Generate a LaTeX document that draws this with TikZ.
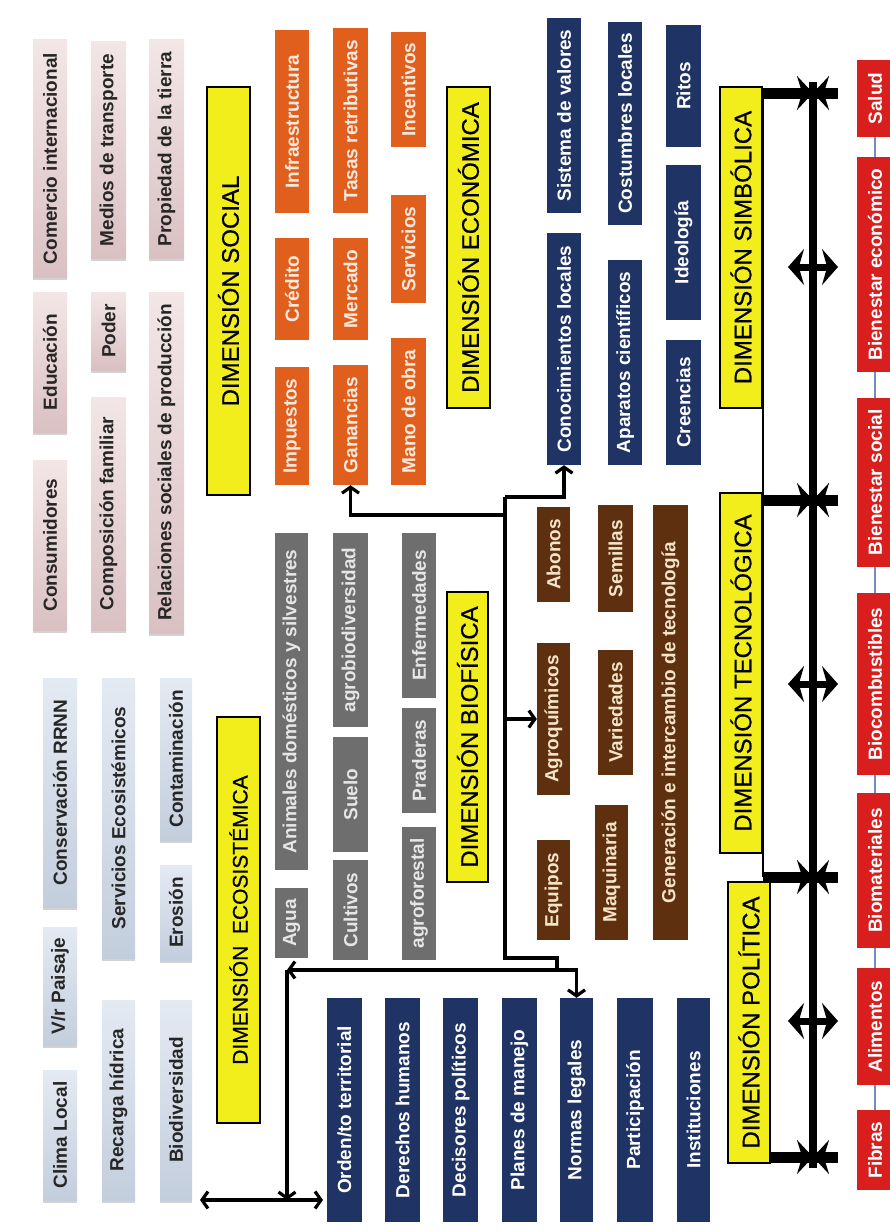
\documentclass[tikz,border=0pt]{standalone}
\usepackage{fontspec}
\setmainfont{Liberation Sans}
\newfontfamily\titlefont{Liberation Sans}[FakeBold=0.6]
\usetikzlibrary{arrows.meta,shadows}

\definecolor{pinkL}{HTML}{F3E6E7}
\definecolor{pinkD}{HTML}{D9C0C3}
\definecolor{iceL}{HTML}{E4EAF3}
\definecolor{iceD}{HTML}{C3CEDD}
\definecolor{titleyel}{HTML}{F2EE1C}
\definecolor{orangebox}{HTML}{E05F1D}
\definecolor{orangetxt}{HTML}{FBE9DD}
\definecolor{graybox}{HTML}{6E6E6E}
\definecolor{graytxt}{HTML}{E6E6E6}
\definecolor{navybox}{HTML}{1F3464}
\definecolor{brownbox}{HTML}{5E300F}
\definecolor{browntxt}{HTML}{F4E4C8}
\definecolor{redbox}{HTML}{D91E1E}
\definecolor{darktxt}{HTML}{262626}
\definecolor{linkblue}{HTML}{6F8FC2}

% box: style, name, left, right, top, bottom (pixel units), text
\newcommand\mkbox[7]{%
  \node[#1, minimum width={(#6-#5)*1pt}, minimum height={(#4-#3)*1pt}]
    (#2) at ({(#3+#4)/2},{(#5+#6)/2}) {#7};}

\begin{document}
\begin{tikzpicture}[x=1pt,y=-1pt,
  >={Straight Barb[length=6pt,width=17pt]},
  base/.style={rotate=90, inner sep=0pt, font=\bfseries\fontsize{19}{19}\selectfont},
  socbox/.style={base, top color=pinkL, bottom color=pinkD, text=darktxt,
    drop shadow={shadow xshift=0pt, shadow yshift=-2.5pt, opacity=.35}},
  ecobox/.style={base, top color=iceL, bottom color=iceD, text=darktxt,
    drop shadow={shadow xshift=0pt, shadow yshift=-2.5pt, opacity=.35}},
  orbox/.style={base, fill=orangebox, text=orangetxt},
  grbox/.style={base, fill=graybox, text=graytxt},
  nvbox/.style={base, fill=navybox, text=white},
  brbox/.style={base, fill=brownbox, text=browntxt},
  rdbox/.style={base, fill=redbox, text=white},
  titlebox/.style={rotate=90, inner sep=0pt, fill=titleyel, draw=black,
    line width=2.5pt, text=black, font=\titlefont\fontsize{24}{24}\selectfont},
  conn/.style={line width=3.2pt, black},
  heavy/.style={line width=11pt, black},
  twin/.style={line width=7pt, black,
    {Stealth[length=16pt,width=36pt]}-{Stealth[length=16pt,width=36pt]}},
  meet/.style={line width=11pt, black, -{Stealth[length=16pt,width=34pt]}},
]
\useasboundingbox[fill=white] (0,0) rectangle (889,1231);

% ---- social dimension
\mkbox{socbox}{comercio}{33}{67}{40}{277}{Comercio internacional}
\mkbox{socbox}{educacion}{33}{67}{292}{432}{Educación}
\mkbox{socbox}{consumidores}{33}{67}{460}{630}{Consumidores}
\mkbox{socbox}{medios}{91}{126}{42}{258}{Medios de transporte}
\mkbox{socbox}{poder}{91}{126}{292}{370}{Poder}
\mkbox{socbox}{composicion}{91}{126}{397}{630}{Composición familiar}
\mkbox{socbox}{propiedad}{149}{184}{40}{258}{Propiedad de la tierra}
\mkbox{socbox}{relaciones}{149}{184}{292}{633}{Relaciones sociales de producción}

% ---- ecosystem dimension
\mkbox{ecobox}{conservacion}{43}{77}{678}{907}{Conservación RRNN}
\mkbox{ecobox}{paisaje}{43}{77}{927}{1045}{V/r Paisaje}
\mkbox{ecobox}{clima}{43}{77}{1070}{1200}{Clima Local}
\mkbox{ecobox}{servicioseco}{102}{135}{678}{958}{Servicios Ecosistémicos}
\mkbox{ecobox}{recarga}{102}{135}{1000}{1200}{Recarga hídrica}
\mkbox{ecobox}{contaminacion}{160}{192}{678}{840}{Contaminación}
\mkbox{ecobox}{erosion}{160}{192}{865}{960}{Erosión}
\mkbox{ecobox}{biodiversidad}{160}{192}{1000}{1200}{Biodiversidad}

% ---- dimension titles
\mkbox{titlebox}{tsocial}{207}{250}{87}{495}{DIMENSIÓN SOCIAL}
\mkbox{titlebox,font=\titlefont\fontsize{21}{21}\selectfont}{tecosis}{217}{260}{717}{1123}{DIMENSIÓN\ \ ECOSISTÉMICA}
\mkbox{titlebox}{teconom}{447}{490}{87}{408}{DIMENSIÓN ECONÓMICA}
\mkbox{titlebox}{tbiofis}{447}{488}{592}{882}{DIMENSIÓN BIOFÍSICA}
\mkbox{titlebox}{tsimbol}{720}{762}{87}{408}{DIMENSIÓN SIMBÓLICA}
\mkbox{titlebox}{ttecno}{720}{762}{493}{853}{DIMENSIÓN TECNOLÓGICA}
\mkbox{titlebox}{tpolit}{728}{770}{882}{1163}{DIMENSIÓN POLÍTICA}

% ---- economic dimension
\mkbox{orbox}{infra}{275}{309}{30}{213}{Infraestructura}
\mkbox{orbox}{credito}{275}{309}{238}{340}{Crédito}
\mkbox{orbox}{impuestos}{275}{309}{367}{485}{Impuestos}
\mkbox{orbox}{tasas}{333}{368}{28}{213}{Tasas retributivas}
\mkbox{orbox}{mercado}{333}{368}{238}{340}{Mercado}
\mkbox{orbox}{ganancias}{333}{368}{365}{485}{Ganancias}
\mkbox{orbox}{incentivos}{391}{426}{32}{147}{Incentivos}
\mkbox{orbox}{servicios}{391}{426}{195}{303}{Servicios}
\mkbox{orbox}{mano}{391}{426}{338}{485}{Mano de obra}

% ---- biophysical dimension
\mkbox{grbox}{animales}{275}{308}{533}{870}{Animales domésticos y silvestres}
\mkbox{grbox}{agua}{275}{308}{888}{958}{Agua}
\mkbox{grbox}{agrobio}{333}{368}{533}{727}{agrobiodiversidad}
\mkbox{grbox}{suelo}{333}{368}{737}{852}{Suelo}
\mkbox{grbox}{cultivos}{333}{368}{860}{960}{Cultivos}
\mkbox{grbox}{enfermedades}{402}{436}{533}{698}{Enfermedades}
\mkbox{grbox}{praderas}{402}{436}{708}{813}{Praderas}
\mkbox{grbox}{agroforestal}{402}{436}{827}{960}{agroforestal}

% ---- symbolic dimension
\mkbox{nvbox}{sistema}{547}{581}{18}{213}{Sistema de valores}
\mkbox{nvbox}{conocimientos}{547}{581}{233}{465}{Conocimientos locales}
\mkbox{nvbox}{costumbres}{608}{642}{22}{225}{Costumbres locales}
\mkbox{nvbox}{aparatos}{608}{642}{260}{465}{Aparatos científicos}
\mkbox{nvbox}{ritos}{666}{701}{25}{147}{Ritos}
\mkbox{nvbox}{ideologia}{666}{701}{165}{320}{Ideología}
\mkbox{nvbox}{creencias}{666}{701}{340}{465}{Creencias}

% ---- technological dimension
\mkbox{brbox}{abonos}{537}{570}{507}{602}{Abonos}
\mkbox{brbox}{agroquimicos}{537}{570}{643}{795}{Agroquímicos}
\mkbox{brbox}{equipos}{537}{570}{840}{940}{Equipos}
\mkbox{brbox}{semillas}{598}{633}{505}{612}{Semillas}
\mkbox{brbox}{variedades}{598}{633}{650}{775}{Variedades}
\mkbox{brbox}{maquinaria}{595}{628}{805}{940}{Maquinaria}
\mkbox{brbox}{generacion}{653}{688}{505}{940}{Generación e intercambio de tecnología}

% ---- political dimension
\mkbox{nvbox}{orden}{327}{362}{998}{1222}{Orden/to territorial}
\mkbox{nvbox}{derechos}{385}{420}{998}{1222}{Derechos humanos}
\mkbox{nvbox}{decisores}{443}{478}{998}{1222}{Decisores políticos}
\mkbox{nvbox}{planes}{502}{537}{998}{1222}{Planes de manejo}
\mkbox{nvbox}{normas}{560}{593}{998}{1222}{Normas legales}
\mkbox{nvbox}{participacion}{617}{653}{998}{1222}{Participación}
\mkbox{nvbox}{instituciones}{677}{710}{998}{1222}{Instituciones}

% ---- outcomes
\mkbox{rdbox}{salud}{857}{893}{60}{137}{Salud}
\mkbox{rdbox}{bieneco}{857}{893}{157}{372}{Bienestar económico}
\mkbox{rdbox}{biensoc}{857}{893}{398}{567}{Bienestar social}
\mkbox{rdbox}{biocomb}{857}{893}{593}{775}{Biocombustibles}
\mkbox{rdbox}{biomat}{857}{893}{793}{948}{Biomateriales}
\mkbox{rdbox}{alimentos}{857}{893}{968}{1085}{Alimentos}
\mkbox{rdbox}{fibras}{857}{893}{1110}{1190}{Fibras}

\foreach \a/\b in {salud/bieneco, bieneco/biensoc, biensoc/biocomb,
                   biocomb/biomat, biomat/alimentos, alimentos/fibras}
  \draw[linkblue, line width=1.5pt] (\a.west) -- (\b.east);

% ---- central connectors
\coordinate (spinetop) at (505,497);
\coordinate (spinebot) at (505,958);
\coordinate (jog) at (557,958);
\coordinate (corner) at (287,970);
\coordinate (leftend) at (200,1200);
\coordinate (rightend) at (323,1200);
\coordinate (foot) at (287,1200);

\draw[conn,->] (spinetop) -| (conocimientos.west);
\draw[conn,->] (505,515) -| (ganancias.west);
\draw[conn,->] (505,719) -- (agroquimicos.north);
\draw[conn] (spinetop) -- (spinebot) -- (jog) -- (557,970);
\draw[conn,<->] (corner) -| (normas.east);
\draw[conn,->] (corner) -- (foot);
\draw[conn,<->] (leftend) -- (rightend);

% ---- right-hand axis
\coordinate (axtop) at (813,82);
\coordinate (axbot) at (813,1168);
\draw[line width=8pt] (axtop) -- (axbot);

\coordinate (b1) at (763,93);
\coordinate (b2) at (763,500);
\coordinate (b3) at (763,877);
\coordinate (b4) at (770,1157);
\draw[line width=2pt] (b1) -- (b3);

\foreach \p/\yy in {b1/93, b2/500, b3/877, b4/1157}{
  \draw[heavy] (\p) -- (838,\yy);
  \draw[meet] (\p) -- (813,\yy);
  \draw[meet] (838,\yy) -- (813,\yy);
}

\foreach \yy in {267,684,1021}
  \draw[twin] (788,\yy) -- (838,\yy);

\end{tikzpicture}
\end{document}
